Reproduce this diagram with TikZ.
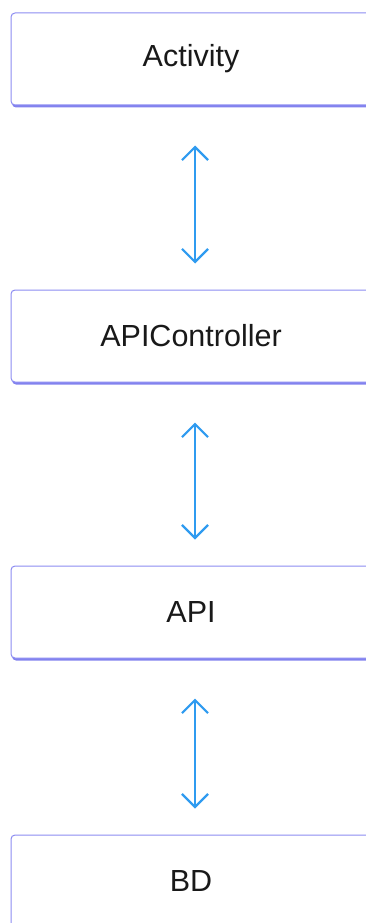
\documentclass[tikz,border=0pt]{standalone}
\usepackage{fontspec}
\setsansfont{Liberation Sans}
\usetikzlibrary{
  arrows.meta,
  positioning,  % Function "of" (e.g. [below=of x])
  shadows,      % Drop shadow under the boxes
}
\definecolor{boxline}{HTML}{8C8CF2}
\definecolor{boxshade}{HTML}{8282EE}
\definecolor{linkblue}{HTML}{2F9BF0}
\def\mygap{184pt}
\tikzset{
  font=\sffamily,
  layer box/.style={
    draw=boxline,
    line width=1pt,
    fill=white,
    rounded corners=4pt,
    minimum width=360pt,
    minimum height=92pt,
    inner sep=0pt,
    text=black!90,
    font=\sffamily\fontsize{30.5}{36}\selectfont,
    drop shadow={shadow xshift=1pt,shadow yshift=-2.5pt,
      fill=boxshade,opacity=1}
  },
  link/.style={
    <->,
    draw=linkblue,
    line width=2.2pt,
    >={Straight Barb[length=13pt,width=26pt]},
    shorten <=40pt,
    shorten >=26pt
  }
}
\begin{document}
\begin{tikzpicture}[x=1pt,y=1pt]
\useasboundingbox (0,0) rectangle (365,-923);
\node[layer box] (act)  at (191,-59)      {Activity};
\node[layer box] (ctrl) [below=\mygap of act]  {APIController};
\node[layer box] (api)  [below=183pt of ctrl]  {API};
\node[layer box] (bd)   [below=176pt of api]   {BD};
\path ([xshift=4pt]act.south)  edge[link] ([xshift=4pt]ctrl.north)
      ([xshift=4pt]ctrl.south) edge[link] ([xshift=4pt]api.north)
      ([xshift=4pt]api.south)  edge[link] ([xshift=4pt]bd.north);
\end{tikzpicture}
\end{document}
